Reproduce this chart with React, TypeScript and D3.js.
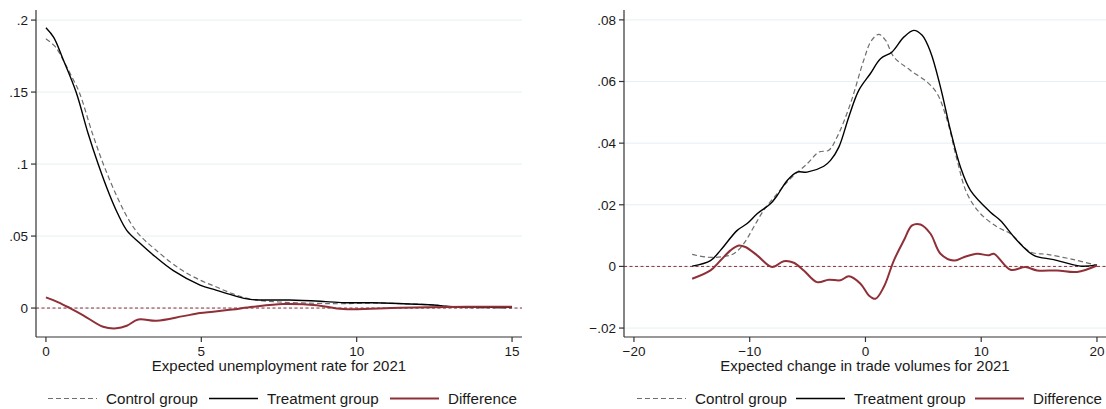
import React from "react";
import * as d3 from "d3";

// ---------- Data ----------
type P = [number, number];

const leftControl: P[] = [
  [0, 0.187], [0.3, 0.1815], [0.55, 0.1725], [0.8, 0.162], [1.07, 0.15], [1.5, 0.121],
  [1.9, 0.097], [2.36, 0.074], [2.7, 0.06], [3.0, 0.051], [3.5, 0.041], [4.29, 0.0275],
  [4.96, 0.0194], [5.47, 0.0148], [6.0, 0.01], [6.57, 0.0063], [7.5, 0.0042], [8.7, 0.0033],
  [9.5, 0.003], [10.5, 0.0035], [11.5, 0.003], [12.5, 0.0021], [13.3, 0.0005], [14, 0.0001], [15, 0.0],
];
const leftTreatment: P[] = [
  [0, 0.1947], [0.25, 0.188], [0.55, 0.1728], [0.97, 0.15], [1.36, 0.121], [1.68, 0.1],
  [2.04, 0.079], [2.3, 0.066], [2.6, 0.054], [3.0, 0.0455], [3.5, 0.036], [4.1, 0.026],
  [4.96, 0.016], [5.47, 0.0125], [6.0, 0.009], [6.57, 0.006], [7.85, 0.0056], [9.0, 0.0045],
  [9.68, 0.0037], [10.5, 0.0037], [11.5, 0.003], [12.46, 0.0021], [13.1, 0.0009], [14, 0.0006],
  [15, 0.0005],
];
const leftDifference: P[] = [
  [0, 0.0074], [0.4, 0.004], [0.77, 0.0], [1.2, -0.005], [1.84, -0.013], [2.27, -0.0141],
  [2.6, -0.0123], [2.97, -0.0079], [3.56, -0.0088], [4.42, -0.0056], [4.96, -0.0035],
  [5.38, -0.0026], [6.0, -0.001], [6.67, 0.0009], [7.64, 0.0028], [8.71, 0.002],
  [9.57, -0.0007], [11.4, 0.0002], [13.54, 0.0009], [15, 0.0009],
];

const rightControl: P[] = [
  [-14.97, 0.0039], [-13.68, 0.003], [-12.24, 0.0032], [-11.38, 0.0041], [-10.51, 0.0074],
  [-9.65, 0.0128], [-8.79, 0.0182], [-7.63, 0.0236], [-6.48, 0.0285], [-5.04, 0.0333],
  [-4.03, 0.0371], [-3.17, 0.0377], [-2.45, 0.042], [-1.3, 0.0528], [-0.15, 0.0669],
  [0.5, 0.0732], [1.15, 0.0753], [1.73, 0.0734], [2.45, 0.068], [3.89, 0.0636],
  [5.33, 0.0598], [6.19, 0.0561], [7.06, 0.0474], [7.92, 0.0344], [8.78, 0.0236],
  [9.94, 0.0171], [11.38, 0.0128], [12.53, 0.0106], [14.25, 0.0047], [15.7, 0.0039],
  [18.0, 0.0022], [20.0, 0.0003],
];
const rightTreatment: P[] = [
  [-14.97, 0.0001], [-13.39, 0.0019], [-12.53, 0.0052], [-11.08, 0.0117], [-10.22, 0.0139],
  [-9.36, 0.0171], [-8.21, 0.0203], [-7.63, 0.023], [-6.76, 0.0279], [-5.9, 0.0306],
  [-5.04, 0.0306], [-3.6, 0.0325], [-3.02, 0.0344], [-2.3, 0.0387], [-1.44, 0.0485],
  [-0.58, 0.0571], [0.43, 0.0626], [1.3, 0.0674], [2.3, 0.0696], [3.31, 0.0744],
  [4.17, 0.0766], [4.9, 0.075], [5.62, 0.0696], [6.48, 0.0582], [7.34, 0.0442],
  [8.21, 0.0322], [9.07, 0.0247], [10.8, 0.0176], [11.66, 0.0149], [13.1, 0.0084],
  [14.54, 0.0036], [16.27, 0.0022], [18.57, 0.0001], [20.0, 0.0005],
];
const rightDifference: P[] = [
  [-14.97, -0.004], [-13.39, -0.0013], [-12.53, 0.0019], [-11.66, 0.0052], [-10.94, 0.0068],
  [-10.37, 0.0063], [-9.36, 0.0036], [-8.06, -0.0002], [-7.06, 0.0017], [-6.19, 0.0012],
  [-5.33, -0.0013], [-4.18, -0.0051], [-3.17, -0.0043], [-2.16, -0.0045], [-1.44, -0.0032],
  [-0.43, -0.0056], [0.29, -0.0094], [0.86, -0.0105], [1.58, -0.0067], [2.45, 0.0019],
  [3.31, 0.0084], [4.03, 0.0133], [4.75, 0.0136], [5.62, 0.0106], [6.48, 0.0041],
  [7.63, 0.0019], [8.49, 0.003], [9.65, 0.0041], [10.66, 0.0036], [11.09, 0.0041],
  [12.53, -0.0011], [13.82, -0.0002], [14.83, -0.0013], [16.56, -0.0013], [18.28, -0.0018],
  [20.0, 0.0003],
];

const leftXTicks = [0, 5, 10, 15];
const leftYTicks = [0, 0.05, 0.1, 0.15, 0.2];
const rightXTicks = [-20, -10, 0, 10, 20];
const rightYTicks = [-0.02, 0, 0.02, 0.04, 0.06, 0.08];

const leftTitle = "Expected unemployment rate for 2021";
const rightTitle = "Expected change in trade volumes for 2021";
const legendLabels = ["Control group", "Treatment group", "Difference"];

// ---------- Styles ----------
const RED = "#8f3038";
const GRID = "#e6eff1";
const AXIS = "#333333";
const TEXT = "#1a1a1a";
const FONT = "'Liberation Sans', Arial, Helvetica, sans-serif";

function fmt(v: number): string {
  if (v === 0) return "0";
  const s = String(Math.abs(+v.toFixed(4))).replace(/^0\./, ".");
  return (v < 0 ? "\u2212" : "") + s;
}

type PanelProps = {
  left: number; right: number; top: number; bottom: number;
  xDomain: [number, number]; yDomain: [number, number];
  xTicks: number[]; yTicks: number[];
  control: P[]; treatment: P[]; difference: P[];
  title: string;
  legendX: number[];
};

function Panel(p: PanelProps) {
  const x = d3.scaleLinear().domain(p.xDomain).range([p.left, p.right]);
  const y = d3.scaleLinear().domain(p.yDomain).range([p.bottom, p.top]);
  const line = d3.line<P>().x((d) => x(d[0])).y((d) => y(d[1])).curve(d3.curveCatmullRom.alpha(0.5));
  const cx = (p.left + p.right) / 2;
  const legY = 398.5;
  const styles = [
    { stroke: "#6e6e6e", width: 1.2, dash: "5,3" },
    { stroke: "#000", width: 1.4, dash: undefined },
    { stroke: RED, width: 2, dash: undefined },
  ];
  return (
    <g>
      {p.yTicks.map((t) => (
        <line key={"g" + t} x1={p.left} x2={p.right} y1={y(t)} y2={y(t)} stroke={GRID} strokeWidth={1} />
      ))}
      <line x1={p.left} x2={p.right} y1={y(0)} y2={y(0)} stroke={RED} strokeWidth={1} strokeDasharray="3,2.5" />
      <path d={line(p.control) || ""} fill="none" stroke={styles[0].stroke} strokeWidth={styles[0].width} strokeDasharray={styles[0].dash} />
      <path d={line(p.treatment) || ""} fill="none" stroke={styles[1].stroke} strokeWidth={styles[1].width} />
      <path d={line(p.difference) || ""} fill="none" stroke={styles[2].stroke} strokeWidth={styles[2].width} />
      <line x1={p.left} x2={p.left} y1={p.top} y2={p.bottom} stroke={AXIS} strokeWidth={1.2} />
      <line x1={p.left} x2={p.right} y1={p.bottom} y2={p.bottom} stroke={AXIS} strokeWidth={1.2} />
      {p.yTicks.map((t) => (
        <g key={"y" + t}>
          <line x1={p.left - 5} x2={p.left} y1={y(t)} y2={y(t)} stroke={AXIS} strokeWidth={1.2} />
          <text x={p.left - 8} y={y(t)} dy="0.35em" textAnchor="end" fontSize={13.5} fill={TEXT}>{fmt(t)}</text>
        </g>
      ))}
      {p.xTicks.map((t) => (
        <g key={"x" + t}>
          <line x1={x(t)} x2={x(t)} y1={p.bottom} y2={p.bottom + 5} stroke={AXIS} strokeWidth={1.2} />
          <text x={x(t)} y={355.5} textAnchor="middle" fontSize={13.5} fill={TEXT}>{fmt(t)}</text>
        </g>
      ))}
      <text x={cx} y={371} textAnchor="middle" fontSize={15} fill={TEXT}>{p.title}</text>
      {legendLabels.map((lab, i) => (
        <g key={lab}>
          <line x1={p.legendX[i]} x2={p.legendX[i] + 49} y1={legY} y2={legY}
            stroke={styles[i].stroke} strokeWidth={styles[i].width} strokeDasharray={styles[i].dash} />
          <text x={p.legendX[i] + 58} y={404} fontSize={15.2} fill={TEXT}>{lab}</text>
        </g>
      ))}
    </g>
  );
}

export default function App() {
  return (
    <svg width={1106} height={409} style={{ position: "absolute", left: 0, top: 0, background: "#fff" }}
      fontFamily={FONT}>
      <rect x={0} y={0} width={1106} height={409} fill="#fff" />
      <Panel left={36} right={522} top={10} bottom={337}
        xDomain={[-0.32, 15.32]} yDomain={[-0.0201, 0.207]}
        xTicks={leftXTicks} yTicks={leftYTicks}
        control={leftControl} treatment={leftTreatment} difference={leftDifference}
        title={leftTitle} legendX={[48, 209, 390]} />
      <Panel left={624} right={1106} top={10} bottom={337}
        xDomain={[-20.86, 20.78]} yDomain={[-0.0229, 0.0832]}
        xTicks={rightXTicks} yTicks={rightYTicks}
        control={rightControl} treatment={rightTreatment} difference={rightDifference}
        title={rightTitle} legendX={[637, 796, 975]} />
    </svg>
  );
}
